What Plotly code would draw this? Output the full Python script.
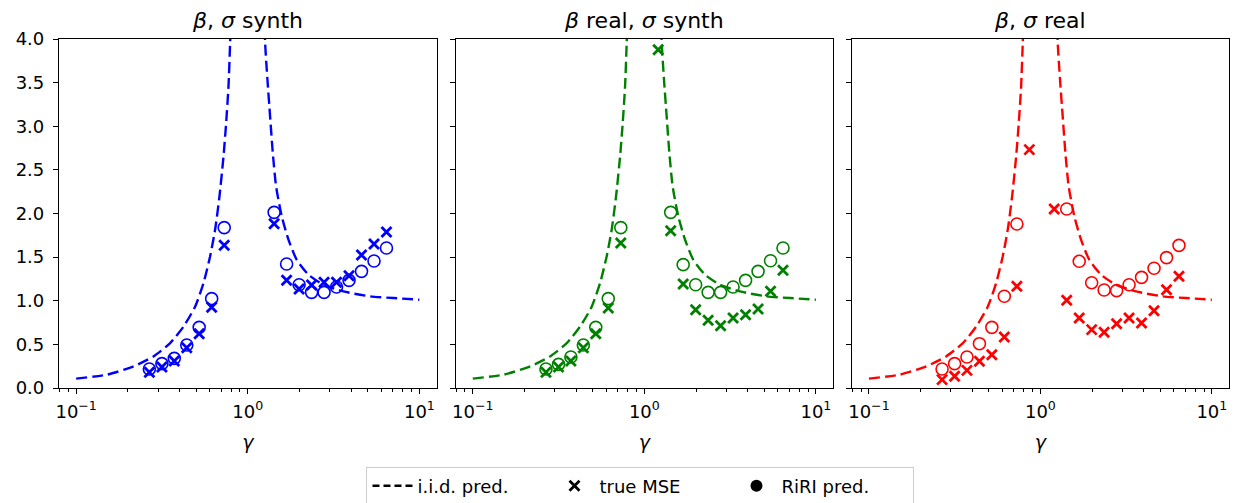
import plotly.graph_objects as go
from plotly.subplots import make_subplots

# ---- data ----
gamma = [0.267, 0.316, 0.373, 0.441, 0.521, 0.616, 0.729, 0.862, 1.019, 1.204,
         1.424, 1.684, 1.991, 2.354, 2.783, 3.29, 3.89, 4.6, 5.44, 6.43]

# i.i.d. prediction curve (same in all panels); None separates the two branches
iid_gamma = [0.1, 0.151, 0.216, 0.282, 0.353, 0.423, 0.494, 0.552, 0.603, 0.645,
             0.684, 0.722, 0.748, 0.772, 0.789, 0.80, None,
             1.25, 1.262, 1.302, 1.349, 1.399, 1.462, 1.578, 1.726, 1.928, 2.256, 2.76,
             3.61, 5.16, 7.06, 10.0]
iid_pred = [0.108, 0.152, 0.248, 0.362, 0.515, 0.706, 0.935, 1.203, 1.508, 1.814,
            2.196, 2.654, 3.037, 3.457, 3.954, 4.3, None,
            4.3, 3.954, 3.533, 3.113, 2.693, 2.311, 1.967, 1.70, 1.47, 1.299, 1.184,
            1.107, 1.05, 1.031, 1.012]

N = None
# panel 1: beta, sigma synth
mse_1 = [0.18, 0.24, 0.31, 0.462, 0.623, 0.925, 1.635, N, N, N,
         1.883, 1.234, 1.135, 1.18, 1.211, 1.211, 1.287, 1.524, 1.65, 1.788]
riri_1 = [0.218, 0.279, 0.34, 0.493, 0.695, 1.024, 1.838, N, N, N,
          2.013, 1.421, 1.184, 1.096, 1.096, 1.158, 1.234, 1.337, 1.456, 1.605]
# panel 2: beta real, sigma synth
mse_2 = [0.18, 0.24, 0.31, 0.462, 0.623, 0.917, 1.662, N, N, 3.878,
         1.803, 1.192, 0.898, 0.776, 0.714, 0.802, 0.84, 0.905, 1.108, 1.349]
riri_2 = [0.218, 0.271, 0.355, 0.493, 0.695, 1.024, 1.838, N, N, N,
          2.013, 1.414, 1.184, 1.096, 1.096, 1.158, 1.234, 1.337, 1.459, 1.605]
# panel 3: beta, sigma real
mse_3 = [0.096, 0.134, 0.202, 0.306, 0.382, 0.585, 1.165, 2.732, N, 2.052,
         1.005, 0.802, 0.669, 0.638, 0.737, 0.802, 0.745, 0.886, 1.127, 1.28]
riri_3 = [0.218, 0.279, 0.355, 0.508, 0.695, 1.051, 1.88, N, N, N,
          2.052, 1.452, 1.207, 1.123, 1.116, 1.184, 1.268, 1.372, 1.494, 1.635]

titles = ["<i>β</i>, <i>σ</i> synth", "<i>β</i> real, <i>σ</i> synth", "<i>β</i>, <i>σ</i> real"]
colors = ["#0000ff", "#008000", "#ff0000"]
mse_all = [mse_1, mse_2, mse_3]
riri_all = [riri_1, riri_2, riri_3]

legend_names = ["i.i.d. pred.", "true MSE", "RiRI pred."]
y_ticks = [0.0, 0.5, 1.0, 1.5, 2.0, 2.5, 3.0, 3.5, 4.0]
x_tickvals = [0.1, 1, 10]
x_ticktext = ["10<sup>−1</sup>", "10<sup>0</sup>", "10<sup>1</sup>"]
x_minor = [0.08, 0.09, 0.2, 0.3, 0.4, 0.5, 0.6, 0.7, 0.8, 0.9,
           2, 3, 4, 5, 6, 7, 8, 9]

FONT = "DejaVu Sans"

fig = make_subplots(rows=1, cols=3, shared_yaxes=False)

domains = [[0.0, 0.3227], [0.339, 0.6616], [0.6776, 1.0]]

for i in range(3):
    c = colors[i]
    fig.add_trace(go.Scatter(x=iid_gamma, y=iid_pred, mode="lines",
                             line=dict(color=c, width=2.4, dash="11px,5px", shape="spline", smoothing=0.6),
                             connectgaps=False, showlegend=False, cliponaxis=True),
                  row=1, col=i + 1)
    fig.add_trace(go.Scatter(x=gamma, y=riri_all[i], mode="markers",
                             marker=dict(symbol="circle-open", size=12, color=c, line=dict(width=1.6, color=c)),
                             showlegend=False, cliponaxis=False),
                  row=1, col=i + 1)
    fig.add_trace(go.Scatter(x=gamma, y=mse_all[i], mode="markers",
                             marker=dict(symbol="x-thin", size=10, color=c, line=dict(width=2.8, color=c)),
                             showlegend=False, cliponaxis=False),
                  row=1, col=i + 1)

# legend entries (black)
fig.add_trace(go.Scatter(x=[None], y=[None], mode="lines", name=legend_names[0],
                         line=dict(color="black", width=2.4, dash="7px,4px")), row=1, col=1)
fig.add_trace(go.Scatter(x=[None], y=[None], mode="markers", name=legend_names[1],
                         marker=dict(symbol="x-thin", size=10, color="black", line=dict(width=2.8, color="black"))), row=1, col=1)
fig.add_trace(go.Scatter(x=[None], y=[None], mode="markers", name=legend_names[2],
                         marker=dict(symbol="circle", size=12, color="black")), row=1, col=1)

for i in range(3):
    ax = "" if i == 0 else str(i + 1)
    fig.layout["xaxis" + ax].update(
        type="log", range=[-1.1, 1.1], domain=domains[i],
        tickvals=x_tickvals, ticktext=x_ticktext,
        ticks="outside", ticklen=5, tickwidth=1, tickcolor="black",
        minor=dict(tickvals=x_minor, ticks="outside", ticklen=3, tickwidth=0.8, tickcolor="black"),
        showline=True, linecolor="black", linewidth=1.2, mirror=True,
        showgrid=False, zeroline=False,
        tickfont=dict(family=FONT, size=18, color="black"),
        ticklabelstandoff=2,
        title=dict(text="<i>γ</i>", font=dict(family=FONT, size=19, color="black"), standoff=14),
    )
    fig.layout["yaxis" + ax].update(
        range=[0, 4], tickvals=y_ticks,
        ticktext=[f"{v:.1f}" for v in y_ticks] if i == 0 else [""] * len(y_ticks),
        ticks="outside", ticklen=5, tickwidth=1, tickcolor="black",
        showline=True, linecolor="black", linewidth=1.2, mirror=True,
        showgrid=False, zeroline=False,
        tickfont=dict(family=FONT, size=18, color="black"),
        ticklabelstandoff=5,
    )
    fig.add_annotation(text=titles[i], xref="x" + ax + " domain", yref="paper",
                       x=0.5, y=1.0, yanchor="bottom", yshift=4, showarrow=False,
                       font=dict(family=FONT, size=22, color="black"))

fig.update_layout(
    width=1239, height=503,
    margin=dict(l=59, r=10, t=39, b=115, autoexpand=False),
    paper_bgcolor="white", plot_bgcolor="white",
    font=dict(family=FONT, color="black"),
    legend=dict(orientation="h", x=0.497, xanchor="center", y=-0.225, yanchor="top",
                bordercolor="#cccccc", borderwidth=1, bgcolor="white",
                font=dict(family=FONT, size=18, color="black"),
                entrywidth=127, entrywidthmode="pixels",
                itemwidth=40),
)

fig.write_html("out.html")
